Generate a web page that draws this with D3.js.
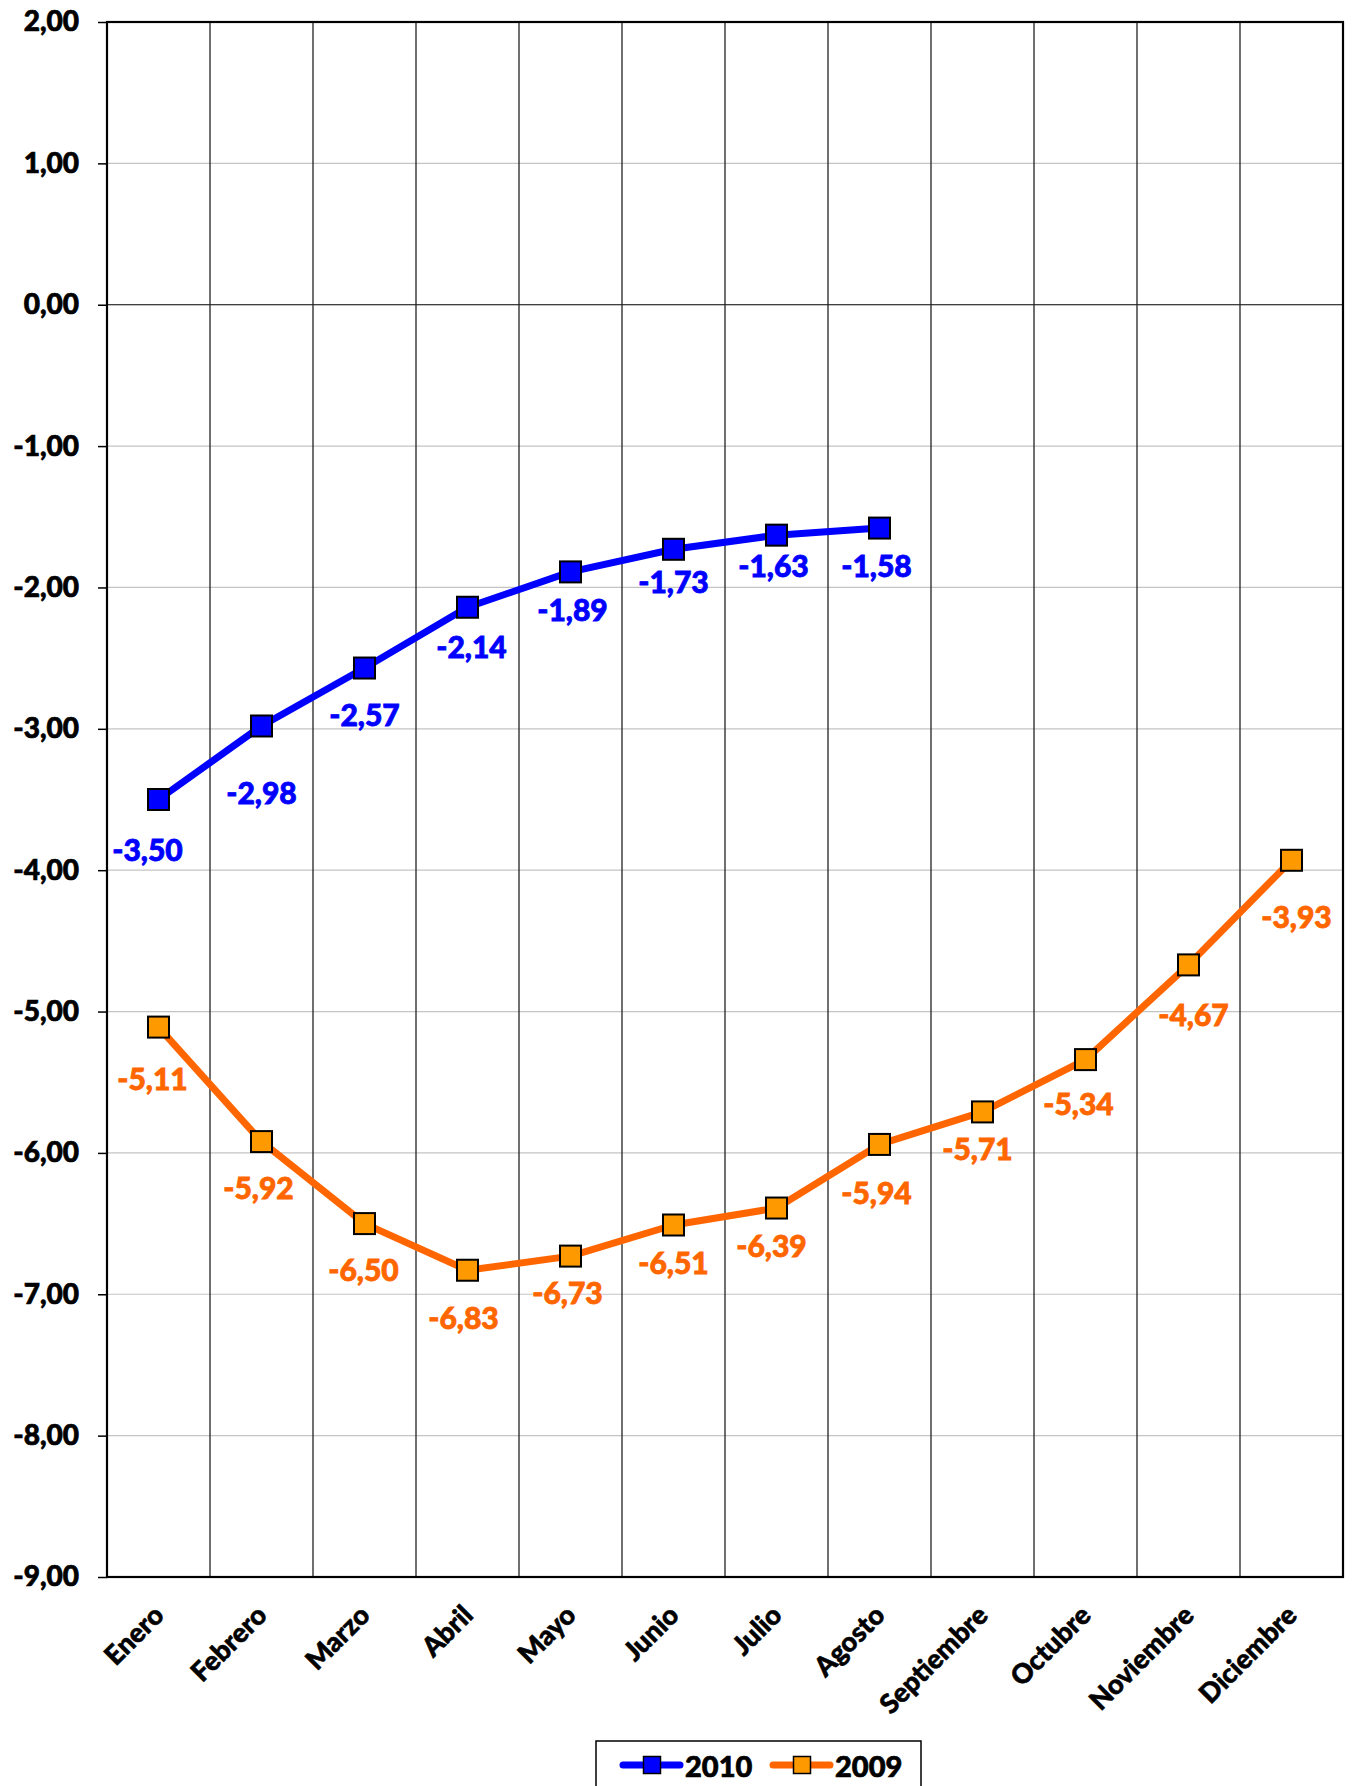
<!DOCTYPE html>
<html>
<head>
<meta charset="utf-8">
<script src="https://cdn.jsdelivr.net/npm/d3@7"></script>
<style>
  html, body { margin: 0; padding: 0; background: #fff; }
  svg { display: block; }
  text { font-family: Lato, "Open Sans", sans-serif; font-weight: 900; }
</style>
</head>
<body>
<script>
// ---- data ----
const months = ["Enero","Febrero","Marzo","Abril","Mayo","Junio","Julio","Agosto","Septiembre","Octubre","Noviembre","Diciembre"];
const values2010 = [-3.50, -2.98, -2.57, -2.14, -1.89, -1.73, -1.63, -1.58];
const values2009 = [-5.11, -5.92, -6.50, -6.83, -6.73, -6.51, -6.39, -5.94, -5.71, -5.34, -4.67, -3.93];
const yTicks = [2, 1, 0, -1, -2, -3, -4, -5, -6, -7, -8, -9];
const seriesNames = ["2010", "2009"];

// ---- layout (label offsets relative to point, px) ----
const labelOffsets2010 = [[-11,49],[0,66],[0,46],[4,39],[2,37],[0,32],[-3,30],[-3,37]];
const labelOffsets2009 = [[-6,51],[-3,45],[-1,45],[-4,47],[-3,36],[0,37],[-5,37],[-3,48],[-5,36],[-7,43],[5,49],[5,56]];

const W = 1353, H = 1786;
const L = 107, R = 1343, T = 22, B = 1577;

const fmt = v => d3.format(".2f")(v).replace("\u2212", "-").replace(".", ",");

const svg = d3.select("body").append("svg").attr("width", W).attr("height", H);

const x = d3.scaleBand().domain(months).range([L, R]).padding(0);
const y = d3.scaleLinear().domain([-9, 2]).range([B, T]);

// horizontal gridlines
svg.append("g").selectAll("line").data(yTicks).join("line")
  .attr("x1", L).attr("x2", R)
  .attr("y1", d => y(d)).attr("y2", d => y(d))
  .attr("stroke", d => d === 0 ? "#000" : "#c4c4c4")
  .attr("stroke-width", 1.2);

// vertical gridlines at category boundaries
svg.append("g").selectAll("line").data(months.slice(1)).join("line")
  .attr("x1", d => x(d)).attr("x2", d => x(d))
  .attr("y1", T).attr("y2", B)
  .attr("stroke", "#222").attr("stroke-width", 1.3);

// plot border
svg.append("rect").attr("x", L).attr("y", T).attr("width", R - L).attr("height", B - T)
  .attr("fill", "none").attr("stroke", "#000").attr("stroke-width", 2.2);

// y axis
const yAxis = d3.axisLeft(y).tickValues(yTicks).tickSize(9).tickPadding(19).tickFormat(fmt);
const gy = svg.append("g").attr("transform", `translate(${L},0)`).call(yAxis);
gy.select(".domain").remove();
gy.selectAll(".tick line").attr("stroke", "#000").attr("stroke-width", 1.5);
gy.selectAll(".tick text").attr("font-size", 28).attr("fill", "#000")
  .attr("stroke", "#000").attr("stroke-width", 0.7)
  .attr("font-family", "Lato, sans-serif").attr("font-weight", 900);

// x labels
const xAxis = d3.axisBottom(x).tickSize(0).tickPadding(0);
const gx = svg.append("g").attr("transform", `translate(0,${B})`).call(xAxis);
gx.select(".domain").remove();
gx.selectAll(".tick text")
  .attr("font-size", 27).attr("fill", "#000")
  .attr("stroke", "#000").attr("stroke-width", 0.6)
  .attr("font-family", "Lato, sans-serif").attr("font-weight", 900)
  .attr("text-anchor", "end")
  .attr("dy", 0).attr("y", 0)
  .attr("transform", "translate(7,40) rotate(-45)");

const cx = (i) => x(months[i]) + x.bandwidth() / 2;

function drawSeries(vals, lineColor, fillColor, offsets) {
  const line = d3.line().x((d, i) => cx(i)).y(d => y(d));
  svg.append("path").datum(vals).attr("d", line)
    .attr("fill", "none").attr("stroke", lineColor).attr("stroke-width", 7)
    .attr("stroke-linejoin", "round").attr("stroke-linecap", "round");
  const s = 21;
  svg.append("g").selectAll("rect").data(vals).join("rect")
    .attr("x", (d, i) => cx(i) - s / 2).attr("y", d => y(d) - s / 2)
    .attr("width", s).attr("height", s)
    .attr("fill", fillColor).attr("stroke", "#000").attr("stroke-width", 2);
  svg.append("g").selectAll("text").data(vals).join("text")
    .attr("x", (d, i) => cx(i) + offsets[i][0])
    .attr("y", (d, i) => y(d) + offsets[i][1])
    .attr("text-anchor", "middle").attr("dominant-baseline", "central")
    .attr("font-size", 30).attr("fill", lineColor)
    .attr("stroke", lineColor).attr("stroke-width", 0.8)
    .text(d => fmt(d));
}

drawSeries(values2009, "#ff6600", "#ff9900", labelOffsets2009);
drawSeries(values2010, "#0000ff", "#0000ff", labelOffsets2010);

// legend
const lg = svg.append("g");
lg.append("rect").attr("x", 596).attr("y", 1741).attr("width", 325).attr("height", 70)
  .attr("fill", "#fff").attr("stroke", "#000").attr("stroke-width", 1.5);
const legendItems = [
  { name: seriesNames[0], line: "#0000ff", fill: "#0000ff", x0: 623 },
  { name: seriesNames[1], line: "#ff6600", fill: "#ff9900", x0: 773 }
];
legendItems.forEach(it => {
  const ly = 1765;
  lg.append("line").attr("x1", it.x0).attr("x2", it.x0 + 57).attr("y1", ly).attr("y2", ly)
    .attr("stroke", it.line).attr("stroke-width", 7).attr("stroke-linecap", "round");
  lg.append("rect").attr("x", it.x0 + 29 - 8.5).attr("y", ly - 8.5).attr("width", 17).attr("height", 17)
    .attr("fill", it.fill).attr("stroke", "#000").attr("stroke-width", 1.5);
  lg.append("text").attr("x", it.x0 + 62).attr("y", ly).attr("dominant-baseline", "central")
    .attr("font-size", 29).attr("fill", "#000").attr("stroke", "#000").attr("stroke-width", 0.7)
    .text(it.name);
});
</script>
</body>
</html>
